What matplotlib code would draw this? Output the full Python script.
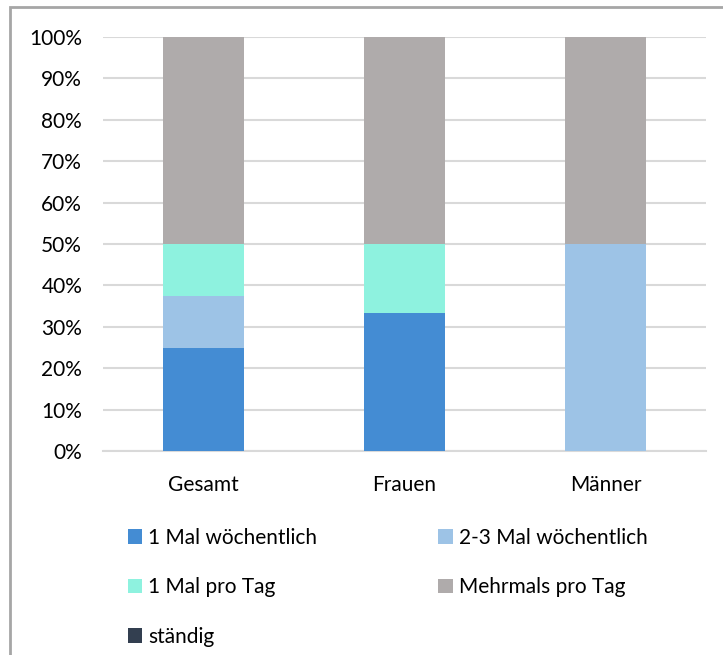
import matplotlib
matplotlib.use("Agg")
import matplotlib.pyplot as plt
from matplotlib.patches import Rectangle, Patch
from matplotlib.ticker import PercentFormatter

plt.rcParams['font.family'] = ['Lato', 'DejaVu Sans']

categories = ["Gesamt", "Frauen", "Männer"]
series_names = ["1 Mal wöchentlich", "2-3 Mal wöchentlich", "1 Mal pro Tag",
                "Mehrmals pro Tag", "ständig"]
einmal_woechentlich = [25.0, 33.33, 0.0]
zwei_drei_woechentlich = [12.5, 0.0, 50.0]
einmal_pro_tag = [12.5, 16.67, 0.0]
mehrmals_pro_tag = [50.0, 50.0, 50.0]
staendig = [0.0, 0.0, 0.0]
series_values = [einmal_woechentlich, zwei_drei_woechentlich, einmal_pro_tag,
                 mehrmals_pro_tag, staendig]
colors = ["#448CD3", "#9DC3E6", "#8EF2DF", "#AFABAB", "#333F50"]

W, H = 723, 655
FS = 15
fig = plt.figure(figsize=(W / 100, H / 100), dpi=100)
ax = fig.add_axes([103 / W, 1 - 451 / H, (706 - 103) / W, (451 - 37) / H])

x = list(range(len(categories)))
bottom = [0.0] * len(categories)
handles = []
for name, vals, col in zip(series_names, series_values, colors):
    ax.bar(x, vals, width=0.4, bottom=bottom, color=col, zorder=3)
    bottom = [b + v for b, v in zip(bottom, vals)]
    handles.append(Patch(facecolor=col, label=name))

ax.set_xlim(-0.5, len(categories) - 0.5)
ax.set_ylim(0, 100)
ax.set_yticks(range(0, 101, 10))
ax.yaxis.set_major_formatter(PercentFormatter(decimals=0))
ax.set_xticks(x)
ax.set_xticklabels(categories)
ax.grid(axis='y', color='#D9D9D9', linewidth=1.5, zorder=0)
for s in ['top', 'right', 'left']:
    ax.spines[s].set_visible(False)
ax.spines['bottom'].set_color('#D9D9D9')
ax.spines['bottom'].set_linewidth(1.5)
ax.tick_params(axis='both', length=0, labelsize=FS, colors='#000000')
ax.tick_params(axis='y', pad=15)
ax.tick_params(axis='x', pad=17)

order = [0, 2, 4, 1, 3]
leg = fig.legend([handles[i] for i in order], [series_names[i] for i in order],
                 ncol=2, loc='upper left', bbox_to_anchor=(111 / W, 1 - 511 / H),
                 frameon=False, fontsize=FS, handlelength=0.7, handleheight=0.7,
                 handletextpad=0.3, labelspacing=1.42, borderpad=0.3,
                 columnspacing=5.8)

# outer chart frame
fig.add_artist(Rectangle((10 / W, -0.05), 1.2, 1 - 7 / H + 0.05,
                         transform=fig.transFigure, fill=False,
                         edgecolor='#A6A6A6', linewidth=2))

fig.savefig("out.png", dpi=100)
